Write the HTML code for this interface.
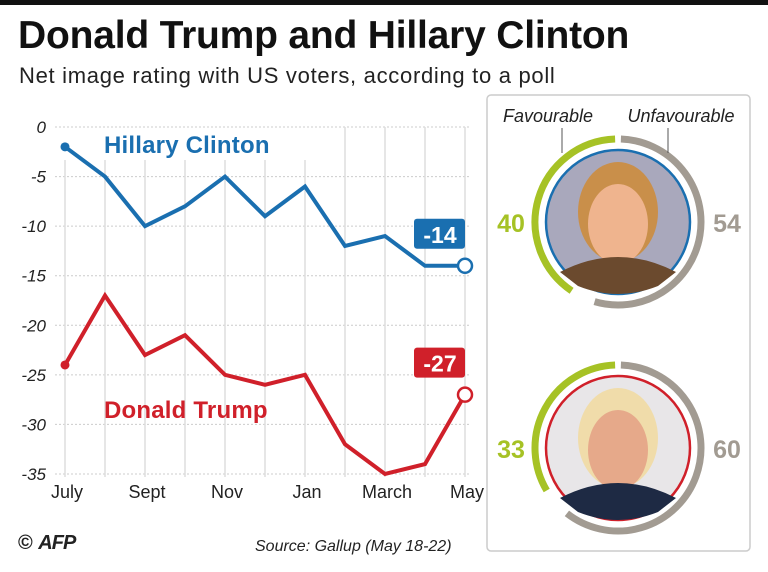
<!DOCTYPE html>
<html><head><meta charset="utf-8"><style>
body{margin:0;width:768px;height:572px;background:#fff;overflow:hidden;font-family:"Liberation Sans",sans-serif;position:relative}
.t{position:absolute;white-space:nowrap}
</style></head><body>
<div style="position:absolute;left:0;top:0;width:768px;height:5px;background:#111"></div>
<div class="t" style="left:18px;top:14px;font-size:39px;font-weight:bold;color:#111;letter-spacing:-0.2px">Donald Trump and Hillary Clinton</div>
<div class="t" style="left:19px;top:63px;font-size:22px;color:#222;letter-spacing:0.7px">Net image rating with US voters, according to a poll</div>
<svg id="chart" width="768" height="572" style="position:absolute;left:0;top:0"></svg>
<div class="t" style="left:18px;top:532px;font-size:20px;font-weight:bold;color:#222">© <span style="font-style:italic;letter-spacing:-1px">AFP</span></div>
<div class="t" style="left:255px;top:538px;font-size:16px;font-style:italic;color:#222">Source: Gallup (May 18-22)</div>
<script>
const months=["July","Aug","Sept","Oct","Nov","Dec","Jan","Feb","March","April","May"];
const tickLabels=["July","Sept","Nov","Jan","March","May"];
const yTicks=[0,-5,-10,-15,-20,-25,-30,-35];
const clinton=[-2,-5,-10,-8,-5,-9,-6,-12,-11,-14,-14];
const trump=[-24,-17,-23,-21,-25,-26,-25,-32,-35,-34,-27];
const favourable=[40,33];
const unfavourable=[54,60];
const NS="http://www.w3.org/2000/svg";
const svg=document.getElementById('chart');
const x=i=>65+i*40;
const y=v=>127+(-v)*(347/35);
function mk(t,a,p){const e=document.createElementNS(NS,t);for(const k in a)e.setAttribute(k,a[k]);(p||svg).appendChild(e);return e;}
let panel=mk('rect',{x:487,y:95,width:263,height:456,rx:4,fill:'none',stroke:'#ccc','stroke-width':1.5});


yTicks.forEach(v=>{
  let g=mk('line',{x1:55,x2:470,y1:y(v),y2:y(v),stroke:'#ccc','stroke-dasharray':'2,2'});
  
  
  let t=mk('text',{x:46,y:y(v)+6,'text-anchor':'end','font-size':17,'font-style':'italic',fill:'#222'});
  t.textContent=v;
  
  
});
months.forEach((m,i)=>{
  let g=mk('line',{x1:x(i),x2:x(i),y1:i<7?160:127,y2:y(-35)+3,stroke:'#ddd','stroke-width':1.5});
  
  
  if(tickLabels.includes(m)){
    let t=mk('text',{x:x(i)+2,y:498,'text-anchor':'middle','font-size':18,fill:'#222'});
    t.textContent=m;
    
    
  }
});
function series(d,col,name,label,lx,ly){
  let p=mk('polyline',{points:d.map((v,i)=>x(i)+','+y(v)).join(' '),fill:'none',stroke:col,'stroke-width':4,'stroke-linejoin':'miter'});
  
  
  let s=mk('circle',{cx:x(0),cy:y(d[0]),r:4.5,fill:col});
  
  
  let n=d.length-1;
  let e=mk('circle',{cx:x(n),cy:y(d[n]),r:7,fill:'#fff',stroke:col,'stroke-width':2.5});
  
  
  let b=mk('rect',{x:x(n)-51,y:y(d[n])-47,width:51,height:30,rx:3,fill:col});
  
  
  let bt=mk('text',{x:x(n)-25,y:y(d[n])-23,'text-anchor':'middle','font-size':23,'font-weight':'bold',fill:'#fff'});
  bt.textContent=d[n];
  
  
  let l=mk('text',{x:lx,y:ly,'font-size':24,'font-weight':'bold',fill:col,'letter-spacing':0.2});
  l.textContent=label;
  
  
}
series(clinton,'#1a6fb0','clinton','Hillary Clinton',104,153);
series(trump,'#d0202a','trump','Donald Trump',104,418);
function arcPath(cx,cy,r,a0,a1){const p=a=>[cx+r*Math.sin(a*Math.PI/180),cy-r*Math.cos(a*Math.PI/180)];const s=p(a0),e=p(a1);const large=Math.abs(a1-a0)>180?1:0;const sweep=a1>a0?1:0;return `M${s[0]},${s[1]} A${r},${r} 0 ${large} ${sweep} ${e[0]},${e[1]}`;}
const centers=[[618,222],[618,448]];
const ring=['#1a6fb0','#d0202a'];
const who=['clinton','trump'];
centers.forEach((c,k)=>{
  let fg=mk('path',{d:arcPath(c[0],c[1],83,-2,-2-favourable[k]*3.6),fill:'none',stroke:'#a6c225','stroke-width':7});
  
  
  let ug=mk('path',{d:arcPath(c[0],c[1],83,2,2+unfavourable[k]*3.6),fill:'none',stroke:'#a29b92','stroke-width':7});
  
  
  let ph=mk('circle',{cx:c[0],cy:c[1],r:72,fill:k?'#e8e6e8':'#a9a8bc',stroke:ring[k],'stroke-width':2.5});
  
  
  mk('ellipse',{cx:c[0],cy:c[1]-10,rx:40,ry:50,fill:k?'#f0dcaa':'#c98f4a'});
  mk('ellipse',{cx:c[0],cy:c[1]+2,rx:30,ry:40,fill:k?'#e6a98a':'#efb48e'});
  mk('path',{d:`M${c[0]-58},${c[1]+50} Q${c[0]},${c[1]+20} ${c[0]+58},${c[1]+50} L${c[0]+40},${c[1]+64} Q${c[0]},${c[1]+80} ${c[0]-40},${c[1]+64}Z`,fill:k?'#1e2a44':'#6b4a2e'});
  let ft=mk('text',{x:511,y:c[1]+10,'text-anchor':'middle','font-size':25,'font-weight':'bold',fill:'#a6c225'});
  ft.textContent=favourable[k];
  
  
  let ut=mk('text',{x:727,y:c[1]+10,'text-anchor':'middle','font-size':25,'font-weight':'bold',fill:'#a29b92'});
  ut.textContent=unfavourable[k];
  
  
});
let lf=mk('text',{x:548,y:122,'text-anchor':'middle','font-size':18,'font-style':'italic',fill:'#222'});
lf.textContent='Favourable';


let lu=mk('text',{x:681,y:122,'text-anchor':'middle','font-size':18,'font-style':'italic',fill:'#222'});
lu.textContent='Unfavourable';


mk('line',{x1:562,y1:128,x2:562,y2:153,stroke:'#555'});
mk('line',{x1:668,y1:128,x2:668,y2:153,stroke:'#555'});
</script>
</body></html>
